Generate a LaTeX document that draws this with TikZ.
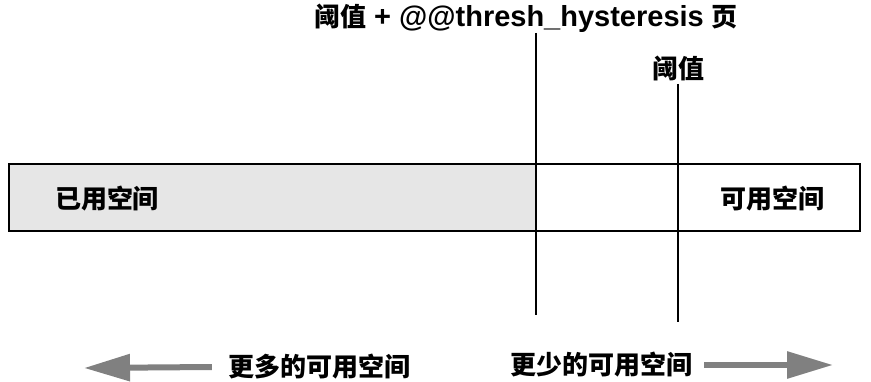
\documentclass[tikz,border=0pt]{standalone}
\usepackage{fontspec}
\setmainfont{Liberation Sans}
\newfontfamily\cjk{Noto Sans CJK SC}
\usetikzlibrary{arrows.meta,positioning}
\definecolor{spaceUsed}{HTML}{E6E6E6}
\definecolor{spaceArrow}{HTML}{808080}

\begin{document}
\begin{tikzpicture}[x=1pt,y=-1pt,
    lbl/.style={font=\fontsize{26}{30}\selectfont\bfseries,inner sep=0pt},
    limitline/.style={line width=1.3pt},
    bigarrow/.style={draw=spaceArrow,line width=6pt,
      -{Triangle[length=46pt,width=26pt]}}]
  \useasboundingbox (0,0) rectangle (871,382);
  % bar: used part shaded
  \fill[spaceUsed] (9,164) rectangle (536,231);
  \draw[line width=1.8pt] (9,164) rectangle (860,231);
  \node[lbl] (used) at (107,199) {\cjk 已用空间};
  \node[lbl] (free) at (772,199) {\cjk 可用空间};
  % the two limits
  \node[lbl] (hyst) at (526,18) {{\cjk 阈值}
    {\fontsize{29}{32}\selectfont + @@thresh\_hysteresis} {\cjk 页}};
  \node[lbl] (thr) at (678,68) {\cjk 阈值};
  \coordinate (hystTop) at (536,33);
  \coordinate (hystEnd) at (536,315);
  \coordinate (thrTop) at (678,84);
  \coordinate (thrEnd) at (678,322);
  \draw[limitline] (hystTop) -- (hystEnd);
  \draw[limitline] (thrTop) -- (thrEnd);
  % directions
  \node[lbl] (more) at (319,367) {\cjk 更多的可用空间};
  \node[lbl] (less) at (601,365) {\cjk 更少的可用空间};
  \coordinate (moreTip) at (84,368);
  \coordinate (lessTip) at (833,365);
  \draw[bigarrow] ([xshift=-16pt]more.west) -- (moreTip);
  \draw[bigarrow] ([xshift=12pt]less.east) -- (lessTip);
\end{tikzpicture}
\end{document}
